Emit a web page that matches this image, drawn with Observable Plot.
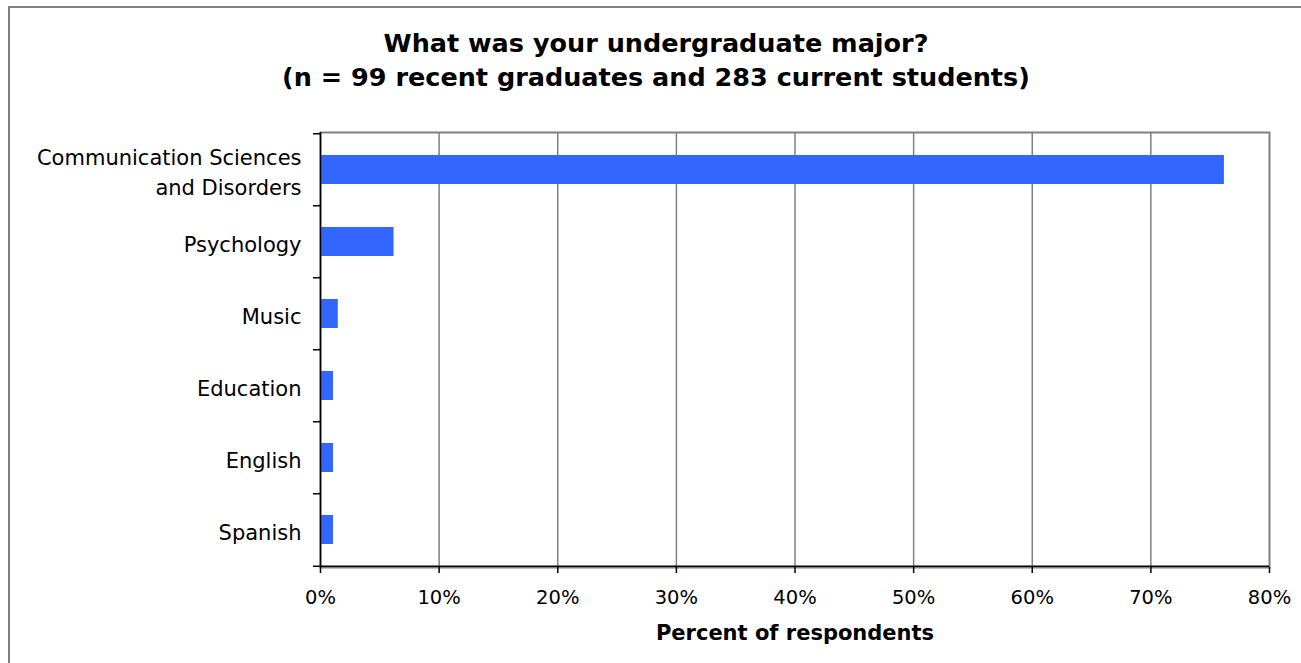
<!DOCTYPE html>
<html>
<head>
<meta charset="utf-8">
<script src="https://cdn.jsdelivr.net/npm/d3@7"></script>
<script src="https://cdn.jsdelivr.net/npm/@observablehq/plot@0.6"></script>
<style>
  html, body { margin: 0; padding: 0; background: #fff; }
  body { width: 1301px; height: 663px; position: relative; overflow: hidden; font-family: "DejaVu Sans", Verdana, sans-serif; }
  #border { position: absolute; left: 8px; top: 6px; width: 1400px; height: 700px; border-left: 2px solid #808080; border-top: 2px solid #808080; }
  #title { position: absolute; left: 11px; top: 26px; width: 1290px; text-align: center; font-weight: bold; font-size: 25.5px; line-height: 34px; color: #000; }
  #chart { position: absolute; left: 0; top: 115px; }
</style>
</head>
<body>
<div id="border"></div>
<div id="title">What was your undergraduate major?<br>(n = 99 recent graduates and 283 current students)</div>
<div id="chart"></div>
<script>
const categories = ["Communication Sciences and Disorders", "Psychology", "Music", "Education", "English", "Spanish"];
const categoryLabels = ["Communication Sciences\nand Disorders", "Psychology", "Music", "Education", "English", "Spanish"];
const percents = [76.2, 6.2, 1.5, 1.1, 1.1, 1.1];
const xTicks = [0, 10, 20, 30, 40, 50, 60, 70, 80];
const xLabel = "Percent of respondents";

const data = categories.map((c, i) => ({category: c, value: percents[i]}));
const labelOf = new Map(categories.map((c, i) => [c, categoryLabels[i]]));

const W = 1301, H = 548, mT = 17, mB = 96, mL = 320, mR = 32;
const step = (H - mT - mB) / categories.length;

const plot = Plot.plot({
  width: W, height: H,
  marginLeft: mL, marginRight: mR, marginTop: mT, marginBottom: mB,
  style: {fontFamily: "DejaVu Sans, Verdana, sans-serif", color: "#000", background: "none"},
  x: {domain: [0, 80], axis: null},
  y: {domain: categories, paddingInner: 0.6, paddingOuter: 0.3, axis: null},
  marks: [
    Plot.gridX(xTicks.slice(1, -1), {stroke: "#808080", strokeOpacity: 1, strokeWidth: 1.5}),
    Plot.frame({stroke: "#808080", strokeWidth: 2, fill: "#fff"}),
    Plot.gridX(xTicks.slice(1, -1), {stroke: "#808080", strokeOpacity: 1, strokeWidth: 1.5}),
    Plot.barX(data, {x: "value", y: "category", fill: "#3366FF"}),
    Plot.ruleX([0], {stroke: "#000", strokeWidth: 1.5}),
    Plot.ruleY([categories[categories.length - 1]], {dy: step / 2, stroke: "#000", strokeWidth: 1.5}),
    Plot.ruleY(categories, {dy: -step / 2, x1: 0, x2: 0, insetLeft: -7, stroke: "#000", strokeWidth: 1.5}),
    Plot.ruleY([categories[categories.length - 1]], {dy: step / 2, x1: 0, x2: 0, insetLeft: -7, stroke: "#000", strokeWidth: 1.5}),
    Plot.axisY({domain: categories, tickSize: 0, tickPadding: 19, fontSize: 21, lineHeight: 1.45, label: null, tickFormat: d => labelOf.get(d)}),
    Plot.axisX({ticks: xTicks, tickSize: 6, tickPadding: 17, fontSize: 19.5, tickFormat: d => d + "%", label: null, strokeWidth: 1.5}),
    Plot.text([xLabel], {text: d => d, frameAnchor: "bottom", lineAnchor: "middle", dy: 66, fontSize: 21, fontWeight: "bold", fill: "#000"})
  ]
});
document.getElementById("chart").appendChild(plot);
</script>
</body>
</html>
